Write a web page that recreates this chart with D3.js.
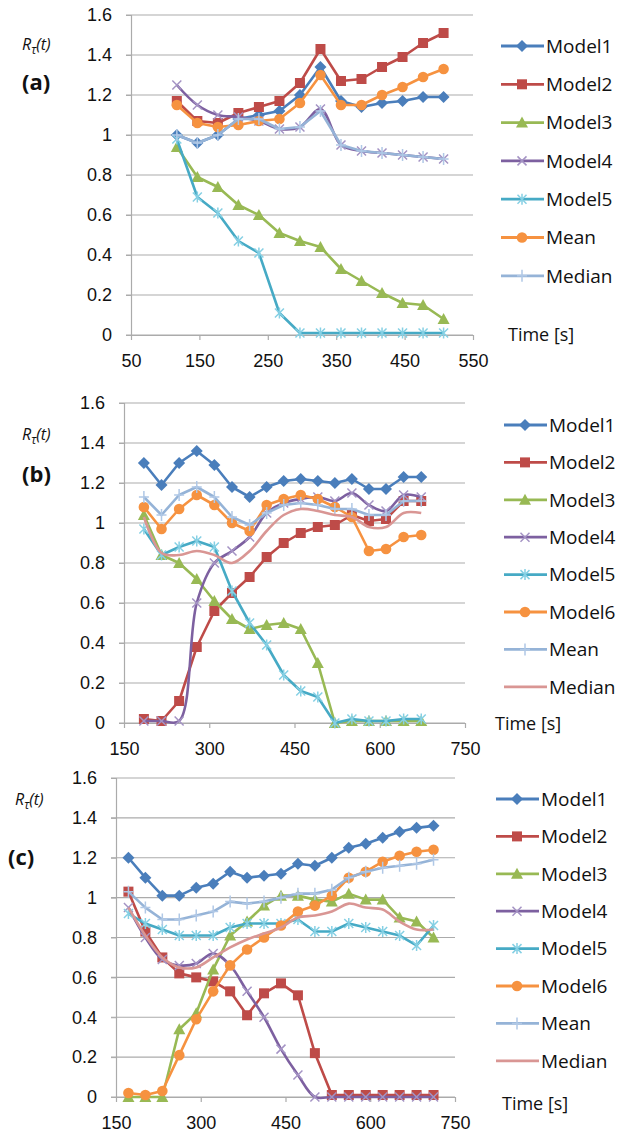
<!DOCTYPE html>
<html>
<head>
<meta charset="utf-8">
<script src="https://cdn.jsdelivr.net/npm/d3@7"></script>
<style>
  body { margin: 0; background: #fff; }
  svg { display: block; font-family: "Open Sans", sans-serif; }
  .tick text { font-size: 18px; fill: #111; }
</style>
</head>
<body>
<svg id="chart" width="617" height="1136"></svg>
<script>
// ---- data ----
var tA = [117, 147, 177, 207, 237, 267, 297, 327, 357, 387, 417, 447, 477, 507];
var a_model1 = [1.0, 0.96, 1.0, 1.08, 1.1, 1.12, 1.2, 1.34, 1.17, 1.14, 1.16, 1.17, 1.19, 1.19];
var a_model2 = [1.17, 1.07, 1.06, 1.11, 1.14, 1.17, 1.26, 1.43, 1.27, 1.28, 1.34, 1.39, 1.46, 1.51];
var a_model3 = [0.94, 0.79, 0.74, 0.65, 0.6, 0.51, 0.47, 0.44, 0.33, 0.27, 0.21, 0.16, 0.15, 0.08];
var a_model4 = [1.25, 1.15, 1.1, 1.09, 1.07, 1.03, 1.04, 1.13, 0.95, 0.92, 0.91, 0.9, 0.89, 0.88];
var a_model5 = [0.98, 0.69, 0.61, 0.47, 0.41, 0.11, 0.01, 0.01, 0.01, 0.01, 0.01, 0.01, 0.01, 0.01];
var a_mean   = [1.15, 1.06, 1.04, 1.05, 1.07, 1.08, 1.16, 1.3, 1.15, 1.15, 1.2, 1.24, 1.29, 1.33];
var a_median = [1.0, 0.96, 1.0, 1.08, 1.08, 1.03, 1.04, 1.12, 0.95, 0.92, 0.91, 0.9, 0.89, 0.88];

var tB = [185, 216, 247, 278, 309, 340, 371, 401, 431, 461, 491, 521, 551, 581, 611, 642, 673];
var b_model1 = [1.3, 1.19, 1.3, 1.36, 1.29, 1.18, 1.13, 1.18, 1.21, 1.22, 1.21, 1.2, 1.22, 1.17, 1.17, 1.23, 1.23];
var b_model2 = [0.02, 0.01, 0.11, 0.38, 0.56, 0.65, 0.73, 0.83, 0.9, 0.95, 0.98, 0.99, 1.04, 1.01, 1.02, 1.11, 1.11];
var b_model3 = [1.04, 0.84, 0.8, 0.72, 0.61, 0.52, 0.47, 0.49, 0.5, 0.47, 0.3, 0.0, 0.01, 0.01, 0.01, 0.01, 0.01];
var b_model4 = [0.01, 0.01, 0.01, 0.6, 0.8, 0.86, 0.93, 1.05, 1.1, 1.12, 1.13, 1.11, 1.15, 1.09, 1.06, 1.14, 1.13];
var b_model5 = [0.97, 0.84, 0.88, 0.91, 0.88, 0.66, 0.5, 0.39, 0.24, 0.16, 0.13, 0.0, 0.02, 0.01, 0.01, 0.02, 0.02];
var b_model6 = [1.08, 0.97, 1.07, 1.14, 1.09, 1.0, 0.96, 1.09, 1.12, 1.14, 1.12, 1.08, 1.03, 0.86, 0.87, 0.93, 0.94];
var b_mean   = [1.13, 1.04, 1.14, 1.18, 1.13, 1.03, 0.99, 1.05, 1.09, 1.1, 1.09, 1.07, 1.07, 1.04, 1.04, 1.11, 1.11];
var b_median = [1.03, 0.85, 0.84, 0.86, 0.84, 0.8, 0.86, 0.96, 1.04, 1.07, 1.06, 1.04, 1.03, 0.98, 0.98, 1.05, 1.05];

var tC = [172, 202, 232, 262, 292, 322, 352, 382, 412, 442, 472, 502, 532, 562, 592, 622, 652, 682, 712];
var c_model1 = [1.2, 1.1, 1.01, 1.01, 1.05, 1.07, 1.13, 1.1, 1.11, 1.12, 1.17, 1.16, 1.2, 1.25, 1.27, 1.3, 1.33, 1.35, 1.36];
var c_model2 = [1.03, 0.83, 0.7, 0.62, 0.6, 0.58, 0.53, 0.41, 0.52, 0.57, 0.51, 0.22, 0.01, 0.01, 0.01, 0.01, 0.01, 0.01, 0.01];
var c_model3 = [0.0, 0.0, 0.0, 0.34, 0.42, 0.64, 0.81, 0.88, 0.96, 1.01, 1.01, 0.99, 0.98, 1.02, 0.99, 0.99, 0.9, 0.88, 0.8];
var c_model4 = [0.95, 0.8, 0.69, 0.66, 0.67, 0.72, 0.66, 0.53, 0.4, 0.24, 0.11, 0.0, 0.0, 0.0, 0.0, 0.0, 0.0, 0.0, 0.0];
var c_model5 = [0.92, 0.87, 0.84, 0.81, 0.81, 0.81, 0.85, 0.87, 0.87, 0.87, 0.89, 0.83, 0.83, 0.87, 0.85, 0.83, 0.81, 0.76, 0.86];
var c_model6 = [0.02, 0.01, 0.03, 0.21, 0.39, 0.53, 0.66, 0.74, 0.8, 0.86, 0.93, 0.96, 1.01, 1.1, 1.13, 1.18, 1.21, 1.23, 1.24];
var c_mean   = [1.03, 0.95, 0.89, 0.89, 0.91, 0.93, 0.98, 0.97, 0.98, 1.0, 1.02, 1.02, 1.04, 1.1, 1.13, 1.15, 1.16, 1.17, 1.19];
var c_median = [0.95, 0.81, 0.7, 0.65, 0.65, 0.7, 0.75, 0.79, 0.82, 0.85, 0.9, 0.91, 0.93, 0.97, 0.95, 0.94, 0.88, 0.84, 0.84];

var yTicks = [0, 0.2, 0.4, 0.6, 0.8, 1, 1.2, 1.4, 1.6];
var xTicksA = [50, 150, 250, 350, 450, 550];
var xTicksBC = [150, 300, 450, 600, 750];

// series styles (Excel 2007 palette)
var st = {
  model1: { name: "Model1", color: "#4A7EBB", marker: "diamond" },
  model2: { name: "Model2", color: "#BE4B48", marker: "square" },
  model3: { name: "Model3", color: "#98B954", marker: "triangle" },
  model4: { name: "Model4", color: "#7D60A0", marker: "x", mcolor: "#A493C4", smooth: true },
  model5: { name: "Model5", color: "#46AAC5", marker: "star", mcolor: "#86D0E4" },
  model6: { name: "Model6", color: "#F69240", marker: "circle" },
  meanA:  { name: "Mean", color: "#F69240", marker: "circle" },
  medianA:{ name: "Median", color: "#95B3D7", marker: "plus", mcolor: "#B0C8E6" },
  mean:   { name: "Mean", color: "#95B3D7", marker: "plus", mcolor: "#B0C8E6" },
  median: { name: "Median", color: "#D99694", marker: "none", smooth: true }
};

var panels = [
  { label: "(a)", t: tA, xDomain: [50, 550], xTicks: xTicksA,
    left: 131, right: 473, top: 15, bottom: 335,
    series: [[st.model1, a_model1], [st.model2, a_model2], [st.model3, a_model3], [st.model4, a_model4],
             [st.model5, a_model5], [st.meanA, a_mean], [st.medianA, a_median]],
    legX: 501, legY: 46, legStep: 38.3, timeX: 508, timeY: 335, rX: 22, rY: 50, labX: 22, labY: 90 },
  { label: "(b)", t: tB, xDomain: [150, 750], xTicks: xTicksBC,
    left: 124, right: 465, top: 403, bottom: 723,
    series: [[st.model1, b_model1], [st.model2, b_model2], [st.model3, b_model3], [st.model4, b_model4],
             [st.model5, b_model5], [st.model6, b_model6], [st.mean, b_mean], [st.median, b_median]],
    legX: 504, legY: 425, legStep: 37.4, timeX: 495, timeY: 724, rX: 22, rY: 440, labX: 22, labY: 482 },
  { label: "(c)", t: tC, xDomain: [150, 750], xTicks: xTicksBC,
    left: 116, right: 455, top: 778, bottom: 1097,
    series: [[st.model1, c_model1], [st.model2, c_model2], [st.model3, c_model3], [st.model4, c_model4],
             [st.model5, c_model5], [st.model6, c_model6], [st.mean, c_mean], [st.median, c_median]],
    legX: 496, legY: 799, legStep: 37.4, timeX: 502, timeY: 1104, rX: 15, rY: 805, labX: 8, labY: 865 }
];

var svg = d3.select("#chart");

function drawMarker(g, s, x, y) {
  var c = s.color, m = s.marker;
  if (m === "diamond") {
    g.append("path").attr("d", "M" + x + "," + (y - 6) + "L" + (x + 6) + "," + y + "L" + x + "," + (y + 6) + "L" + (x - 6) + "," + y + "Z").attr("fill", c);
  } else if (m === "square") {
    g.append("rect").attr("x", x - 5).attr("y", y - 5).attr("width", 10).attr("height", 10).attr("fill", c);
  } else if (m === "triangle") {
    g.append("path").attr("d", "M" + x + "," + (y - 6) + "L" + (x + 6) + "," + (y + 5) + "L" + (x - 6) + "," + (y + 5) + "Z").attr("fill", c);
  } else if (m === "circle") {
    g.append("circle").attr("cx", x).attr("cy", y).attr("r", 5.3).attr("fill", c);
  } else if (m === "x" || m === "star" || m === "plus") {
    var mc = s.mcolor || c, r = 4.5, p = "";
    if (m !== "plus") p += "M" + (x - r) + "," + (y - r) + "L" + (x + r) + "," + (y + r) + "M" + (x - r) + "," + (y + r) + "L" + (x + r) + "," + (y - r);
    if (m === "star") p += "M" + x + "," + (y - 5.5) + "L" + x + "," + (y + 5.5);
    if (m === "plus") p += "M" + x + "," + (y - 6) + "L" + x + "," + (y + 6) + "M" + (x - 5) + "," + y + "L" + (x + 5) + "," + y;
    g.append("path").attr("d", p).attr("stroke", mc).attr("stroke-width", 1.5).attr("fill", "none");
  }
}

panels.forEach(function (P) {
  var x = d3.scaleLinear().domain(P.xDomain).range([P.left, P.right]);
  var y = d3.scaleLinear().domain([0, 1.6]).range([P.bottom, P.top]);
  var g = svg.append("g");

  // gridlines
  g.append("g").selectAll("line").data(yTicks).enter().append("line")
    .attr("x1", P.left - 5).attr("x2", P.right)
    .attr("y1", function (d) { return y(d); }).attr("y2", function (d) { return y(d); })
    .attr("stroke", "#ababab").attr("stroke-width", 1.2);

  // y axis
  var ya = g.append("g").attr("transform", "translate(" + P.left + ",0)")
    .call(d3.axisLeft(y).tickValues(yTicks).tickSize(5).tickPadding(14)
      .tickFormat(function (d) { return d3.format("")(+d.toFixed(1)); }));
  ya.select(".domain").attr("stroke", "#ababab").attr("stroke-width", 1.2);
  ya.selectAll(".tick line").attr("stroke", "#ababab");

  // x axis
  var xa = g.append("g").attr("transform", "translate(0," + P.bottom + ")")
    .call(d3.axisBottom(x).tickValues(P.xTicks).tickSize(5).tickPadding(9).tickSizeOuter(0));
  xa.select(".domain").attr("stroke", "#ababab").attr("stroke-width", 1.2);
  xa.selectAll(".tick line").attr("stroke", "#ababab").attr("stroke-width", 1.2);
  xa.selectAll(".tick text").attr("dy", "1.0em");

  // series
  P.series.forEach(function (sv) {
    var s = sv[0], vals = sv[1];
    var pts = vals.map(function (v, i) { return [P.t[i], v]; });
    var line = d3.line()
      .x(function (d) { return x(d[0]); })
      .y(function (d) { return y(d[1]); })
      .curve(s.smooth ? d3.curveCatmullRom.alpha(0.5) : d3.curveLinear);
    var sg = g.append("g");
    sg.append("path").datum(pts).attr("d", line)
      .attr("fill", "none").attr("stroke", s.color).attr("stroke-width", 2.6)
      .attr("stroke-linejoin", "round");
    pts.forEach(function (d) { drawMarker(sg, s, x(d[0]), y(d[1])); });
  });

  // legend
  P.series.forEach(function (sv, i) {
    var s = sv[0];
    var ly = P.legY + i * P.legStep;
    var lg = g.append("g");
    lg.append("line").attr("x1", P.legX).attr("x2", P.legX + 43).attr("y1", ly).attr("y2", ly)
      .attr("stroke", s.color).attr("stroke-width", 2.8);
    drawMarker(lg, s, P.legX + 21, ly);
    lg.append("text").attr("x", P.legX + 45).attr("y", ly).attr("dy", "0.36em")
      .attr("font-size", 19).attr("fill", "#111").text(s.name);
  });

  g.append("text").attr("x", P.timeX).attr("y", P.timeY).attr("dy", "0.35em")
    .attr("font-size", 18).attr("fill", "#111").text("Time [s]");

  var rt = g.append("text").attr("x", P.rX).attr("y", P.rY)
    .attr("font-size", 16).attr("font-style", "italic").attr("fill", "#111");
  rt.append("tspan").text("R");
  rt.append("tspan").attr("font-size", 12).attr("dy", 4).text("τ");
  rt.append("tspan").attr("dy", -4).text("(t)");

  g.append("text").attr("x", P.labX).attr("y", P.labY)
    .attr("font-size", 22).attr("font-weight", "bold").attr("fill", "#111").text(P.label);
});
</script>
</body>
</html>
